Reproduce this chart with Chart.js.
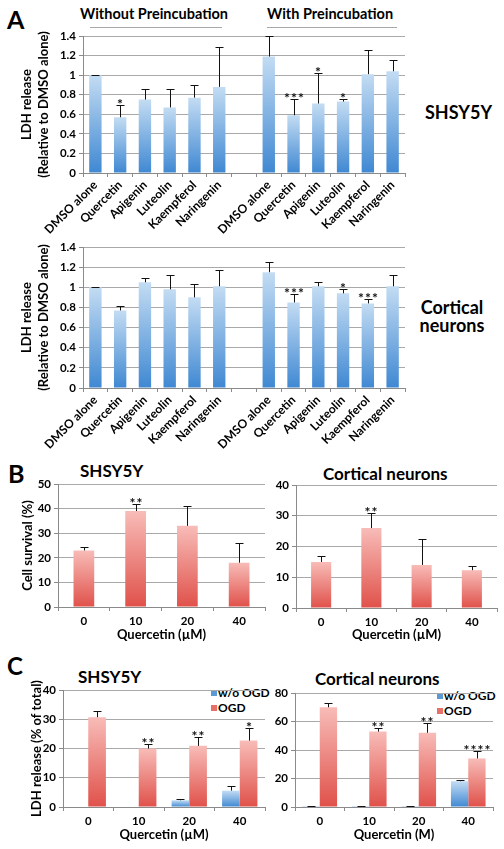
<!DOCTYPE html>
<html>
<head>
<meta charset="utf-8">
<script src="https://cdn.jsdelivr.net/npm/chart.js@4.4.0/dist/chart.umd.min.js"></script>
<style>
body { margin: 0; background: #fff; }
#fig { position: relative; width: 504px; height: 849px; overflow: hidden; font-family: Lato, sans-serif; font-weight: bold; color: #000; }
.box { position: absolute; }
.t { position: absolute; line-height: 1; white-space: nowrap; }
.rule { position: absolute; height: 0; border-top: 1px solid #a8a8a8; }
.sq { position: absolute; width: 6px; height: 6px; }
</style>
</head>
<body>
<div id="fig">
  <div class="t" style="left:7px;top:7px;font-size:25px;">A</div>
  <div class="t" style="left:80px;top:7px;font-size:14.5px;">Without Preincubation</div>
  <div class="t" style="left:267px;top:7px;font-size:14.5px;">With Preincubation</div>
  <div class="rule" style="left:90px;top:27px;width:132px;"></div>
  <div class="rule" style="left:267px;top:27px;width:130px;"></div>
  <div class="t" style="left:425px;top:103px;font-size:18px;">SHSY5Y</div>
  <div class="t" style="left:400px;width:104px;text-align:center;top:298px;font-size:18px;">Cortical</div>
  <div class="t" style="left:400px;width:104px;text-align:center;top:316px;font-size:18px;">neurons</div>

  <div class="t" style="left:8px;top:461px;font-size:25px;">B</div>
  <div class="t" style="left:80px;top:462px;font-size:17px;">SHSY5Y</div>
  <div class="t" style="left:323px;top:465px;font-size:17px;">Cortical neurons</div>

  <div class="t" style="left:7px;top:654px;font-size:24px;">C</div>
  <div class="t" style="left:78px;top:668px;font-size:17px;">SHSY5Y</div>
  <div class="t" style="left:315px;top:670px;font-size:17px;">Cortical neurons</div>

  <div class="sq" style="left:211px;top:690px;background:#5b9bd5;"></div>
  <div class="t" style="left:218px;top:687px;font-size:12px;">w/o OGD</div>
  <div class="sq" style="left:211px;top:705px;background:#e8706a;"></div>
  <div class="t" style="left:218px;top:702px;font-size:12px;">OGD</div>
  <div class="sq" style="left:437px;top:693px;background:#5b9bd5;"></div>
  <div class="t" style="left:444px;top:690px;font-size:12px;">w/o OGD</div>
  <div class="sq" style="left:437px;top:708px;background:#e8706a;"></div>
  <div class="t" style="left:444px;top:705px;font-size:12px;">OGD</div>

  <div class="box" style="left:0px;top:26px;"><canvas id="a1" width="410" height="226"></canvas></div>
  <div class="box" style="left:0px;top:237px;"><canvas id="a2" width="410" height="220"></canvas></div>
  <div class="box" style="left:0px;top:474px;"><canvas id="b1" width="272" height="172"></canvas></div>
  <div class="box" style="left:270px;top:475px;"><canvas id="b2" width="232" height="171"></canvas></div>
  <div class="box" style="left:0px;top:680px;"><canvas id="c1" width="272" height="169"></canvas></div>
  <div class="box" style="left:270px;top:683px;"><canvas id="c2" width="230" height="166"></canvas></div>
</div>
<script>
// Panel A: LDH release relative to DMSO alone (7th slot is the gap between groups)
const drugLabels = ['DMSO alone', 'Quercetin', 'Apigenin', 'Luteolin', 'Kaempferol', 'Naringenin', '',
                    'DMSO alone', 'Quercetin', 'Apigenin', 'Luteolin', 'Kaempferol', 'Naringenin'];
const shsyLdh      = [1.00, 0.57, 0.75, 0.67, 0.77, 0.88, null, 1.19, 0.59, 0.71, 0.73, 1.01, 1.04];
const shsyLdhErr   = [1.00, 0.70, 0.86, 0.86, 0.90, 1.29, null, 1.40, 0.76, 1.02, 0.76, 1.26, 1.15];
const shsyLdhStars = ['', '*', '', '', '', '', '', '', '***', '*', '*', '', ''];
const cortLdh      = [1.00, 0.77, 1.05, 0.98, 0.90, 1.01, null, 1.15, 0.85, 1.01, 0.94, 0.84, 1.01];
const cortLdhErr   = [1.00, 0.81, 1.09, 1.12, 1.03, 1.17, null, 1.25, 0.93, 1.05, 0.98, 0.88, 1.12];
const cortLdhStars = ['', '', '', '', '', '', '', '', '***', '', '*', '***', ''];

// Panel B: cell survival (%)
const doseLabels = ['0', '10', '20', '40'];
const shsySurv      = [23, 39, 33, 18];
const shsySurvErr   = [24.5, 42, 41, 26];
const shsySurvStars = ['', '**', '', ''];
const cortSurv      = [15, 26, 14, 12.3];
const cortSurvErr   = [17, 31, 22.5, 13.7];
const cortSurvStars = ['', '**', '', ''];

// Panel C: LDH release (% of total)
const shsyNoOgd     = [0, 0, 2.3, 5.6];
const shsyNoOgdErr  = [null, null, 2.9, 7.1];
const shsyOgd       = [30.7, 20, 20.9, 22.7];
const shsyOgdErr    = [32.8, 21.5, 23.9, 26.9];
const shsyOgdStars  = ['', '**', '**', '*'];
const cortNoOgd     = [0.5, 0.5, 0.5, 18.1];
const cortNoOgdErr  = [1, 1, 1, 19.2];
const cortOgd       = [70, 52.9, 52.1, 34.1];
const cortOgdErr    = [73.2, 55.2, 58.7, 39.4];
const cortOgdStars  = ['', '**', '**', '****'];

const FONT = 'Lato, sans-serif';
const BLUE = ['#c3dcf3', '#3f88d2'];
const RED = ['#f8bcb8', '#e0514a'];

function barFill(cols) {
    return (ctx) => {
        const chart = ctx.chart;
        if (!chart.chartArea || ctx.type !== 'data' || ctx.raw == null) return cols[1];
        const y = chart.scales.y;
        const y0 = y.getPixelForValue(0);
        const y1 = y.getPixelForValue(ctx.raw);
        if (Math.abs(y0 - y1) < 1) return cols[1];
        const g = chart.ctx.createLinearGradient(0, y1, 0, y0);
        g.addColorStop(0, cols[0]);
        g.addColorStop(1, cols[1]);
        return g;
    };
}

// error bars (upper only) and significance stars
const errorBars = {
    id: 'errorBars',
    afterDatasetsDraw(chart) {
        const c = chart.ctx;
        const y = chart.scales.y;
        chart.data.datasets.forEach((ds, di) => {
            if (!ds.err) return;
            const meta = chart.getDatasetMeta(di);
            meta.data.forEach((bar, i) => {
                const top = ds.err[i];
                if (top == null || ds.data[i] == null) return;
                const x = Math.round(bar.x) + 0.5;
                const yTop = Math.round(y.getPixelForValue(top)) + 0.5;
                c.save();
                c.strokeStyle = '#111';
                c.lineWidth = 1;
                c.beginPath();
                c.moveTo(x, bar.y);
                c.lineTo(x, yTop);
                c.moveTo(x - 4, yTop);
                c.lineTo(x + 4, yTop);
                c.stroke();
                if (ds.stars && ds.stars[i]) {
                    c.fillStyle = '#111';
                    c.font = 'bold 14px ' + FONT;
                    c.letterSpacing = '1px';
                    c.textAlign = 'center';
                    c.textBaseline = 'alphabetic';
                    c.fillText(ds.stars[i], x, yTop + 3);
                }
                c.restore();
            });
        });
    }
};

function yScale(max, step, width, title, titlePad, fmt) {
    return {
        min: 0, max: max,
        ticks: { stepSize: step, color: '#000', padding: 3, font: { family: FONT, size: 11.5, weight: 'bold' },
                 callback: fmt || (v => v) },
        grid: { color: '#a9a9a9', tickLength: 4, tickColor: '#8a8a8a' },
        border: { color: '#8a8a8a' },
        title: title ? { display: true, text: title, color: '#000', font: { family: FONT, size: 13, weight: 'bold', lineHeight: 1.25 },
                         padding: { top: titlePad, bottom: 0 } } : { display: false },
        afterFit: s => { s.width = width; }
    };
}

function xScale(height, rotated, title) {
    return {
        grid: { display: true, drawOnChartArea: false, tickLength: 4, color: '#8a8a8a' },
        border: { color: '#8a8a8a' },
        ticks: rotated
            ? { autoSkip: false, minRotation: 45, maxRotation: 45, padding: 1, color: '#000', font: { family: FONT, size: 12, weight: 'bold' } }
            : { autoSkip: false, maxRotation: 0, padding: 3, color: '#000', font: { family: FONT, size: 11.5, weight: 'bold' } },
        title: title ? { display: true, text: title.text, color: '#000', font: { family: FONT, size: 13, weight: 'bold' },
                         padding: { top: 0, bottom: title.pad } } : { display: false },
        afterFit: s => { s.height = height; }
    };
}

function makeChart(id, labels, datasets, scales, pad, widths) {
    return new Chart(document.getElementById(id), {
        type: 'bar',
        data: { labels: labels, datasets: datasets },
        options: {
            responsive: false,
            animation: false,
            layout: { padding: pad },
            datasets: { bar: { categoryPercentage: widths[0], barPercentage: widths[1] } },
            plugins: { legend: { display: false }, tooltip: { enabled: false } },
            scales: scales
        },
        plugins: [errorBars]
    });
}

const oneDec = v => Number(v.toFixed(1)).toString();

makeChart('a1', drugLabels,
    [{ data: shsyLdh, err: shsyLdhErr, stars: shsyLdhStars, backgroundColor: barFill(BLUE) }],
    { x: xScale(79, true), y: yScale(1.4, 0.2, 83, ['LDH release', '(Relative to DMSO alone)'], 19, oneDec) },
    { top: 10, right: 5, left: 0, bottom: 0 }, [0.5, 1]);

makeChart('a2', drugLabels,
    [{ data: cortLdh, err: cortLdhErr, stars: cortLdhStars, backgroundColor: barFill(BLUE) }],
    { x: xScale(69, true), y: yScale(1.4, 0.2, 83, ['LDH release', '(Relative to DMSO alone)'], 19, oneDec) },
    { top: 10, right: 5, left: 0, bottom: 0 }, [0.5, 1]);

makeChart('b1', doseLabels,
    [{ data: shsySurv, err: shsySurvErr, stars: shsySurvStars, backgroundColor: barFill(RED) }],
    { x: xScale(39, false, { text: 'Quercetin (\u00b5M)', pad: 3 }), y: yScale(50, 10, 58, 'Cell survival (%)', 20) },
    { top: 10, right: 7, left: 0, bottom: 0 }, [0.4, 1]);

makeChart('b2', doseLabels,
    [{ data: cortSurv, err: cortSurvErr, stars: cortSurvStars, backgroundColor: barFill(RED) }],
    { x: xScale(38, false, { text: 'Quercetin (\u00b5M)', pad: 3 }), y: yScale(40, 10, 26) },
    { top: 10, right: 5, left: 0, bottom: 0 }, [0.4, 1]);

makeChart('c1', doseLabels,
    [{ data: shsyNoOgd, err: shsyNoOgdErr, backgroundColor: barFill(BLUE) },
     { data: shsyOgd, err: shsyOgdErr, stars: shsyOgdStars, backgroundColor: barFill(RED) }],
    { x: xScale(42, false, { text: 'Quercetin (\u00b5M)', pad: 6 }), y: yScale(40, 10, 63, 'LDH release (% of total)', 29) },
    { top: 10, right: 7, left: 0, bottom: 0 }, [0.7, 1]);

makeChart('c2', doseLabels,
    [{ data: cortNoOgd, err: cortNoOgdErr, backgroundColor: barFill(BLUE) },
     { data: cortOgd, err: cortOgdErr, stars: cortOgdStars, backgroundColor: barFill(RED) }],
    { x: xScale(42, false, { text: 'Quercetin (M)', pad: 6 }), y: yScale(80, 20, 25) },
    { top: 10, right: 7, left: 0, bottom: 0 }, [0.7, 1]);
</script>
</body>
</html>
